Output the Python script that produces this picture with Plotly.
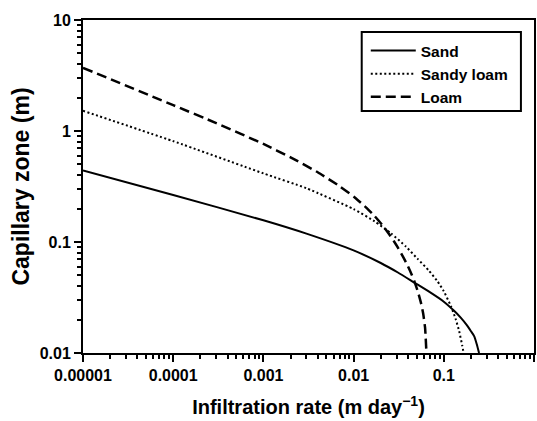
import plotly.graph_objects as go

# Data (log-log curves)
sand_x = [1e-5, 1e-4, 1e-3, 3e-3, 0.01, 0.02, 0.031, 0.047, 0.07, 0.1, 0.13, 0.154, 0.18, 0.2, 0.217, 0.232, 0.246]
sand_y = [0.44, 0.265, 0.157, 0.119, 0.084, 0.0647, 0.0531, 0.0431, 0.0353, 0.029, 0.0240, 0.0208, 0.0178, 0.0157, 0.0142, 0.012, 0.01]

sandy_loam_x = [1e-5, 1e-4, 1e-3, 3e-3, 0.01, 0.017, 0.026, 0.038, 0.051, 0.068, 0.0855, 0.1, 0.12, 0.135, 0.148, 0.16, 0.166]
sandy_loam_y = [1.52, 0.81, 0.415, 0.305, 0.198, 0.154, 0.1197, 0.091, 0.0708, 0.0555, 0.044, 0.036, 0.0264, 0.0204, 0.0157, 0.0117, 0.01]

loam_x = [1e-5, 1e-4, 3e-4, 1e-3, 2e-3, 4e-3, 7e-3, 0.0103, 0.014, 0.017, 0.021, 0.024, 0.028, 0.031, 0.036,
          0.04, 0.044, 0.047, 0.052, 0.056, 0.059, 0.062, 0.0642]
loam_y = [3.71, 1.71, 1.178, 0.764, 0.579, 0.425, 0.318, 0.252, 0.202, 0.172, 0.141, 0.122, 0.1016, 0.0889, 0.0716,
          0.0605, 0.051, 0.0447, 0.035, 0.028, 0.0228, 0.0169, 0.01]

x_tickvals = [1e-5, 1e-4, 1e-3, 1e-2, 1e-1, 1]
x_ticktext = ["0.00001", "0.0001", "0.001", "0.01", "0.1", "1"]
y_tickvals = [0.01, 0.1, 1, 10]
y_ticktext = ["0.01", "0.1", "1", "10"]

FONT = "Liberation Sans, Arial, sans-serif"

fig = go.Figure()
fig.add_trace(go.Scatter(x=sand_x, y=sand_y, name="Sand", mode="lines",
                         line=dict(color="black", width=2, shape="spline", smoothing=0.5)))
fig.add_trace(go.Scatter(x=sandy_loam_x, y=sandy_loam_y, name="Sandy loam", mode="lines",
                         line=dict(color="black", width=2, dash="2px,2.5px", shape="spline", smoothing=0.5)))
fig.add_trace(go.Scatter(x=loam_x, y=loam_y, name="Loam", mode="lines",
                         line=dict(color="black", width=2.5, dash="10px,5px", shape="spline", smoothing=0.5)))

axis_common = dict(
    type="log",
    showgrid=False,
    zeroline=False,
    showline=True,
    linecolor="black",
    linewidth=2,
    mirror=True,
    ticks="outside",
    ticklen=7,
    tickwidth=2,
    tickcolor="black",
    tickfont=dict(family=FONT, size=16, color="black", weight="bold"),
    minor=dict(ticks="outside", ticklen=4, tickwidth=1.5, tickcolor="black", showgrid=False),
    tickmode="linear", tick0=0, dtick=1, tickformat="~g",
)

# decade tick labels mapped onto the reference's tick texts
x_alias = {t: t for t in x_ticktext}
y_alias = {t: t for t in y_ticktext}

fig.update_layout(
    xaxis=dict(range=[-5, 0], labelalias=x_alias,
               title=dict(text="Infiltration rate (m day<sup>\u22121</sup>)",
                          font=dict(family=FONT, size=20, color="black", weight="bold"),
                          standoff=17),
               **axis_common),
    yaxis=dict(range=[-2, 1], labelalias=y_alias,
               title=dict(text="Capillary zone (m)",
                          font=dict(family=FONT, size=23, color="black", weight="bold"),
                          standoff=4),
               **axis_common),
)

# legend frame
fig.add_shape(type="rect", xref="paper", yref="paper",
              x0=0.618, x1=0.971, y0=0.727, y1=0.964,
              line=dict(color="black", width=2), fillcolor="rgba(0,0,0,0)", layer="above")

fig.update_layout(
    width=537, height=421,
    margin=dict(l=83, r=1, t=20, b=68),
    paper_bgcolor="white", plot_bgcolor="white",
    showlegend=True,
    legend=dict(x=0.627, y=0.958, xanchor="left", yanchor="top",
                bgcolor="rgba(0,0,0,0)", borderwidth=0,
                itemwidth=45,
                font=dict(family=FONT, size=15.5, color="black", weight="bold")),
)

fig.write_html("out.html")
